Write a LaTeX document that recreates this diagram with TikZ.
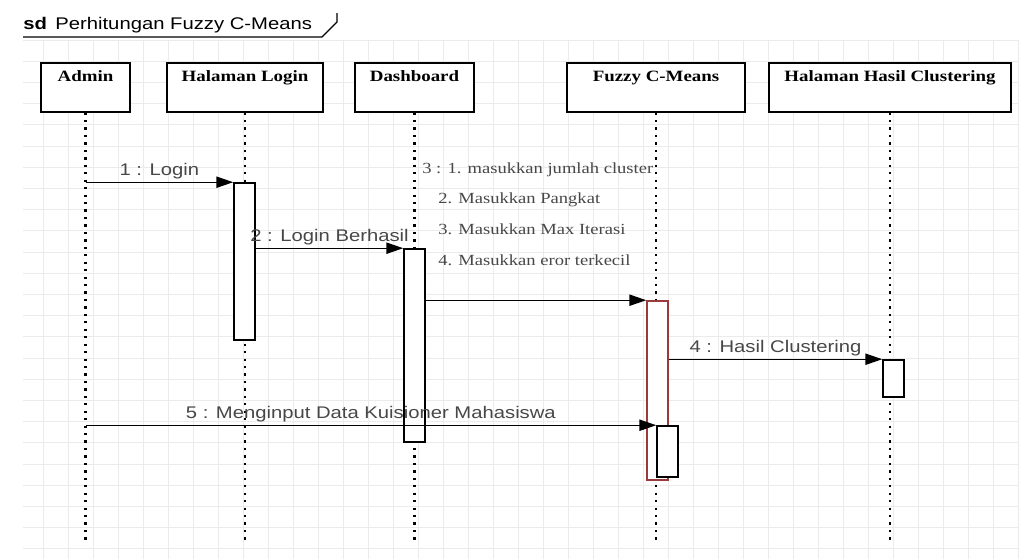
\documentclass[tikz,border=0pt]{standalone}
\usepackage{fontspec}
\usepackage{tikz}
\usetikzlibrary{arrows.meta}
\newfontfamily\msgfont[FakeStretch=1.2]{Liberation Sans}
\newfontfamily\objfont[FakeStretch=1.2]{Liberation Serif}
\definecolor{gridgray}{HTML}{EBEBEB}
\definecolor{labelgray}{HTML}{474747}
\definecolor{actred}{HTML}{9A3B3B}

\tikzset{
  object/.style={draw=black, line width=1.1pt, fill=white, inner sep=0pt,
    text height=0.475cm, text depth=0.75cm, minimum height=1.225cm, anchor=north,
    font=\objfont\bfseries\fontsize{11.2}{13}\selectfont},
  act/.style={draw=black, line width=1.1pt, fill=white, inner sep=0pt, minimum width=0.525cm},
  lifeline/.style={line width=1.6pt, dash pattern=on 1.6pt off 3.7pt},
  msg/.style={line width=0.9pt, -{Triangle[length=0.42cm,width=0.28cm]}},
  msglabel/.style={text=labelgray, font=\msgfont\fontsize{12}{14}\selectfont, inner sep=1pt},
  notelabel/.style={text=labelgray, font=\objfont\fontsize{11}{22}\selectfont, inner sep=0pt, align=left},
  gridline/.style={draw=gridgray, line width=0.6pt}
}

\begin{document}
\begin{tikzpicture}[x=0.025cm,y=-0.025cm]
\useasboundingbox (0,0) rectangle (1019,559);
% background grid
\foreach \gx in {43,68,...,1018}
  \draw[gridline] (\gx,40) -- (\gx,559);
\foreach \gy in {40,61.2,...,559}
  \draw[gridline] (23,\gy) -- (1019,\gy);

% frame title
\node[anchor=base west, inner sep=0pt, font=\msgfont\fontsize{12}{14}\selectfont] (title) at (23,29) {\textbf{sd}\, Perhitungan Fuzzy C-Means};
\draw[line width=0.8pt] (23,37) -- (322,37) -- (337,22) -- (337,13);

% objects
\node[object, minimum width=2.225cm] (admin) at (85.5,62) {Admin};
\node[object, minimum width=3.9cm] (login) at (245,62) {Halaman Login};
\node[object, minimum width=2.975cm] (dash) at (414.5,62) {Dashboard};
\node[object, minimum width=4.45cm] (fcm) at (656,62) {Fuzzy C-Means};
\node[object, minimum width=6.05cm] (hasil) at (890,62) {Halaman Hasil Clustering};

% lifelines
\foreach \obj in {admin,login,dash,fcm,hasil}
  \draw[lifeline] (\obj.south) -- ++(0,429);

% activations
\node[act, minimum height=3.925cm] (aLogin) at (244.5,261.5) {};
\node[act, minimum height=4.825cm] (aDash) at (414.5,345.5) {};
\node[act, draw=actred, minimum height=4.475cm] (aFcm) at (657.5,390.5) {};
\node[act, minimum height=1.275cm] (aFcmB) at (667.5,451.5) {};
\node[act, minimum height=0.925cm] (aHasil) at (893.5,378.5) {};

% messages
\draw[msg] (admin.south |- aLogin.north) -- (aLogin.north west)
  node[midway, above=1pt, msglabel] {1 : Login};
\draw[msg] (aLogin.east |- aDash.north) -- (aDash.north west)
  node[midway, above=1pt, msglabel] {2 : Login Berhasil};
\draw[msg] (aDash.east |- aFcm.north) -- (aFcm.north west);
\node[notelabel, anchor=north west] (note3) at (422,162) {3 : 1. masukkan jumlah cluster\\
  \hspace{0.4cm}2. Masukkan Pangkat\\
  \hspace{0.4cm}3. Masukkan Max Iterasi\\
  \hspace{0.4cm}4. Masukkan eror terkecil};
\draw[msg] (aFcm.east |- aHasil.north) -- (aHasil.north west)
  node[midway, above=1pt, msglabel] {4 : Hasil Clustering};
\draw[msg] (admin.south |- aFcmB.north) -- (aFcmB.north west)
  node[midway, above=1pt, msglabel] {5 : Menginput Data Kuisioner Mahasiswa};
\end{tikzpicture}
\end{document}
